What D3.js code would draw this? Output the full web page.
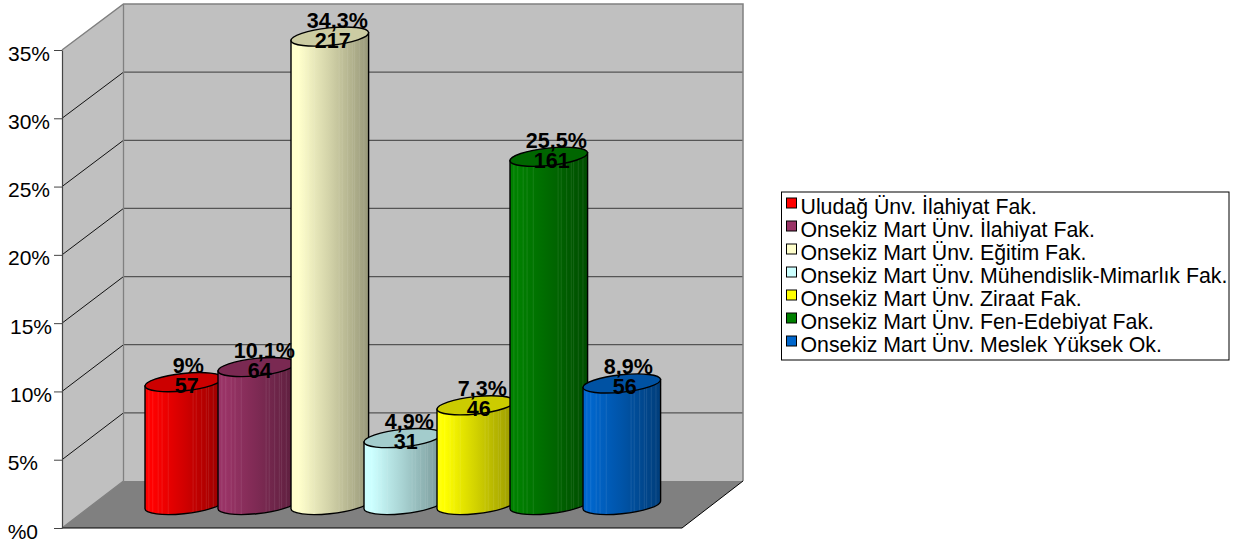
<!DOCTYPE html>
<html>
<head>
<meta charset="utf-8">
<script src="https://cdn.jsdelivr.net/npm/d3@7"></script>
<style>
body { margin: 0; background: #fff; }
text { font-family: "Liberation Sans", Arial, sans-serif; fill: #000; }
</style>
</head>
<body>
<svg width="1247" height="544"></svg>
<script>
const categories = ["Uludağ Ünv. İlahiyat Fak.", "Onsekiz Mart Ünv. İlahiyat Fak.", "Onsekiz Mart Ünv. Eğitim Fak.",
    "Onsekiz Mart Ünv. Mühendislik-Mimarlık Fak.", "Onsekiz Mart Ünv. Ziraat Fak.", "Onsekiz Mart Ünv. Fen-Edebiyat Fak.",
    "Onsekiz Mart Ünv. Meslek Yüksek Ok."];
const percents = [9, 10.1, 34.3, 4.9, 7.3, 25.5, 8.9];
const counts = [57, 64, 217, 31, 46, 161, 56];
const colors = ["#ff0000", "#993366", "#ffffcc", "#ccffff", "#ffff00", "#008000", "#0066cc"];
const yTicks = [0, 5, 10, 15, 20, 25, 30, 35];

const svg = d3.select("svg");
const defs = svg.append("defs");

// front of the box, back wall is shifted up and to the right of it
const frontLeft = 62, frontRight = 682, backLeft = 123.5, backRight = 743;
const yScale = d3.scaleLinear().domain([0, 35]).range([528, 50]);
const backScale = d3.scaleLinear().domain([0, 35]).range([481, 4]);
const cylScale = d3.scaleLinear().domain([0, 35]).range([505, 27]); // centre of the cylinder cap
const xScale = d3.scaleBand().domain(categories).range([145, 656]).paddingInner(0).paddingOuter(0);

const line = d3.line();

// walls and floor
svg.append("path").attr("d", line([[backLeft, 4], [backRight, 4], [backRight, 481], [backLeft, 481]]) + "Z").attr("fill", "#c0c0c0");
svg.append("path").attr("d", line([[frontLeft, 50], [backLeft, 4], [backLeft, 481], [frontLeft, 528]]) + "Z").attr("fill", "#c0c0c0");
svg.append("path").attr("d", line([[frontLeft, 528], [backLeft, 481], [backRight, 481], [frontRight, 528]]) + "Z").attr("fill", "#808080");

// grid lines round the walls
yTicks.filter(d => d > 0 && d < 35).forEach(d => {
    svg.append("path").attr("d", line([[frontLeft, yScale(d)], [backLeft, backScale(d)]]))
        .attr("fill", "none").attr("stroke", "#111").attr("stroke-width", 1);
    svg.append("path").attr("d", line([[backLeft, backScale(d)], [backRight, backScale(d)]]))
        .attr("fill", "none").attr("stroke", "#555").attr("stroke-width", 1.2);
});
// wall edges
svg.append("path").attr("d", line([[frontLeft, 50], [backLeft, 4], [backRight, 4], [backRight, 481]]))
    .attr("fill", "none").attr("stroke", "#808080").attr("stroke-width", 1.5);
svg.append("path").attr("d", line([[backLeft, 4], [backLeft, 481], [frontLeft, 528]]))
    .attr("fill", "none").attr("stroke", "#808080").attr("stroke-width", 1.3);
svg.append("path").attr("d", line([[frontRight, 528], [backRight, 481]]))
    .attr("fill", "none").attr("stroke", "#000").attr("stroke-width", 1);
svg.append("path").attr("d", line([[frontLeft, 528], [frontRight, 528]]))
    .attr("fill", "none").attr("stroke", "#000").attr("stroke-width", 1.2);

// left axis
const axis = svg.append("g")
    .attr("transform", "translate(" + frontLeft + ",0)")
    .call(d3.axisLeft(yScale).tickValues(yTicks).tickSize(8).tickSizeOuter(0)
        .tickFormat(d => d === 0 ? "%0" : d + "%"));
axis.select(".domain").attr("stroke", "#444").attr("stroke-width", 1.2);
axis.selectAll(".tick line").attr("stroke", "#444");
axis.selectAll(".tick text")
    .attr("x", d => d < 10 ? -24 : (d < 20 ? -10 : -12))
    .attr("dy", 10)
    .attr("font-size", 21)
    .attr("font-family", "Liberation Sans");

// cylinders, drawn left to right so each one laps over the last
const rx = 39, ry = 8.7, tilt = -6;
const rad = tilt * Math.PI / 180;
const t0 = Math.atan(-(ry / rx) * Math.tan(rad));
const ex = rx * Math.cos(t0) * Math.cos(rad) - ry * Math.sin(t0) * Math.sin(rad);
const ey = rx * Math.cos(t0) * Math.sin(rad) + ry * Math.sin(t0) * Math.cos(rad);
const stripes = [.05, .1, .17, .22, .3, .62, .66, .73, .79, .82, .88, .94];

function bodyPath(cx, top) {
    const bot = cylScale(0);
    return "M" + (cx - ex) + "," + (top - ey) + "L" + (cx - ex) + "," + (bot - ey) +
        "A" + rx + " " + ry + " " + tilt + " 0 0 " + (cx + ex) + "," + (bot + ey) +
        "L" + (cx + ex) + "," + (top + ey) + "Z";
}

categories.forEach((c, i) => {
    const cx = xScale(c) + ex;
    const top = cylScale(percents[i]);
    const shade = d3.scaleLinear().domain([0, .1, 1]).range([colors[i], colors[i], d3.interpolateRgb(colors[i], "#000")(.4)]);

    const grad = defs.append("linearGradient").attr("id", "cyl" + i);
    d3.range(0, 1.001, .1).forEach(o => {
        grad.append("stop").attr("offset", o).attr("stop-color", shade(o));
    });
    defs.append("clipPath").attr("id", "clip" + i).append("path").attr("d", bodyPath(cx, top));

    const g = svg.append("g");
    g.append("path").attr("d", bodyPath(cx, top)).attr("fill", "url(#cyl" + i + ")");
    g.append("g").attr("clip-path", "url(#clip" + i + ")")
        .selectAll("line").data(stripes).join("line")
        .attr("x1", d => cx - ex + d * 2 * ex).attr("x2", d => cx - ex + d * 2 * ex)
        .attr("y1", top - 20).attr("y2", cylScale(0) + 12)
        .attr("stroke", "#fff").attr("stroke-opacity", .09).attr("stroke-width", 1);
    g.append("path").attr("d", bodyPath(cx, top)).attr("fill", "none").attr("stroke", "#000").attr("stroke-width", 1.4);
    g.append("ellipse").attr("rx", rx).attr("ry", ry)
        .attr("transform", "translate(" + cx + "," + top + ") rotate(" + tilt + ")")
        .attr("fill", d3.interpolateRgb(colors[i], "#000")(.2))
        .attr("stroke", "#000").attr("stroke-width", 1.4);
});

// value labels go on top of everything
categories.forEach((c, i) => {
    const cx = xScale(c) + ex;
    const top = cylScale(percents[i]);
    const pct = String(percents[i]).replace(".", ",") + "%";
    svg.append("text").attr("x", cx + 2.5 + pct.length).attr("y", top - 9)
        .attr("text-anchor", "middle").attr("font-size", 21.5).attr("font-weight", "bold")
        .text(pct);
    svg.append("text").attr("x", cx + 3).attr("y", top + 11)
        .attr("text-anchor", "middle").attr("font-size", 21.5).attr("font-weight", "bold")
        .text(counts[i]);
});

// legend
const legend = svg.append("g").attr("transform", "translate(781.5,192)");
legend.append("rect").attr("width", 447.5).attr("height", 168)
    .attr("fill", "#fff").attr("stroke", "#000").attr("stroke-width", 1);
const row = d3.scaleBand().domain(categories).range([2, 163]);
categories.forEach((c, i) => {
    legend.append("rect").attr("x", 5).attr("y", row(c) + 4).attr("width", 10).attr("height", 10)
        .attr("fill", colors[i]).attr("stroke", "#000").attr("stroke-width", 1);
    legend.append("text").attr("x", 19).attr("y", row(c) + 20)
        .attr("font-size", 21.3).text(c);
});
</script>
</body>
</html>
